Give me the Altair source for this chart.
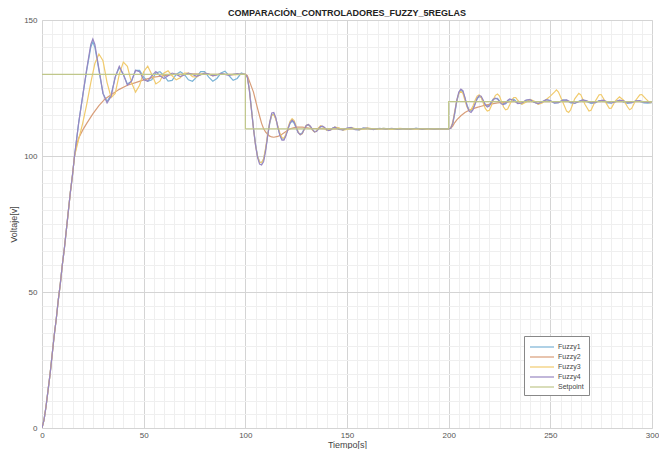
import altair as alt
import pandas as pd

series_names = ["Fuzzy1", "Fuzzy2", "Fuzzy3", "Fuzzy4", "Setpoint"]
series_colors = ["#7ab3d6", "#d89d78", "#f1cb6e", "#9887c2", "#c0c78a"]

# common rise (all controllers)
t_rise = [0, 1, 2, 3, 4, 5, 6, 7, 8, 9, 10, 11, 12, 13, 14, 15, 16]
v_rise = [0, 3, 8, 14, 20, 27, 34, 40, 47, 53, 60, 66, 73, 80, 87, 93, 100]

# Fuzzy4 (purple)
t_f4 = [18, 20, 22, 24, 25, 26, 28, 30, 32, 34, 36, 38, 40, 42, 44, 46, 48, 50, 52, 54, 56, 58, 60,
        62, 64, 66, 68, 70, 72, 74, 76, 78, 80, 82, 84, 86, 88, 90, 92, 94, 96, 98, 100,
        101, 102, 103, 104, 105, 106, 107, 108, 109, 110, 111, 112, 113, 114, 115, 116, 117, 118, 119, 120,
        121, 122, 123, 124, 125, 126, 127, 128, 129, 130, 131, 132, 133, 134, 135, 136, 137, 138, 139, 140,
        141, 142, 143, 144, 146, 148, 150, 152, 154, 156, 158, 160, 163, 166, 169, 172, 175, 178, 181, 184,
        187, 190, 193, 196, 200,
        201, 202, 203, 204, 205, 206, 207, 208, 209, 210, 211, 212, 213, 214, 215, 216, 217, 218, 219, 220,
        221, 222, 223, 224, 225, 226, 227, 228, 229, 230, 232, 234, 236, 238, 240, 242, 244, 246, 248, 250,
        252, 254, 256, 258, 260, 262, 264, 266, 268, 270, 272, 274, 276, 278, 280, 282, 284, 286, 288, 290,
        292, 294, 296, 298, 300]
v_f4 = [112, 122, 132, 141, 143, 141, 132, 123, 119.5, 122, 129, 133, 130, 126, 127.5, 131.5, 131, 128, 127.5, 129.5, 131, 129.5, 128.5,
        129.5, 130.5, 130, 129.2, 129.8, 130.5, 130, 129.3, 129.8, 130.5, 130.2, 129.5, 129.8, 130.4, 130, 129.6, 130, 130.3, 130, 130,
        129, 124, 117, 110, 104, 99.5, 97, 96.7, 98, 102, 107.5, 112.5, 115.8, 116, 114, 110.5, 107.5, 105.8, 105.8, 107.5,
        110, 112.2, 113.2, 112.5, 110.6, 108.6, 107.8, 108.3, 109.8, 111.2, 111.6, 111, 109.8, 108.9, 109, 109.9, 110.8, 111, 110.5, 109.7,
        109.3, 109.6, 110.3, 110.6, 109.8, 109.6, 110.3, 110.4, 109.7, 109.7, 110.3, 110.2, 109.7, 110.2, 109.9, 110.2, 109.8, 110.1, 109.9, 110.2,
        109.8, 110.1, 109.9, 110.1, 110,
        110.2, 112, 116, 120.5, 123.5, 124.6, 124, 121.5, 118.5, 116.5, 116, 117, 119, 121.2, 122.2, 122, 120.5, 118.8, 118, 118.4,
        119.6, 120.8, 121.3, 121, 120, 119.1, 118.9, 119.5, 120.4, 121, 120.4, 119.3, 119.5, 120.6, 120.7, 119.8, 119.3, 119.9, 120.7, 120.4,
        119.5, 119.6, 120.5, 120.6, 119.8, 119.4, 120, 120.6, 120.3, 119.6, 119.6, 120.3, 120.5, 119.9, 119.5, 119.9, 120.5, 120.3, 119.6, 119.6,
        120.3, 120.4, 119.8, 119.7, 120]

# Fuzzy1 (blue)
t_f1 = [18, 20, 22, 24, 25, 26, 28, 30, 32, 34, 36, 38, 40, 42, 44, 46, 48, 50, 52, 54, 56, 58, 60,
        62, 64, 66, 68, 70, 72, 74, 76, 78, 80, 82, 84, 86, 88, 90, 92, 94, 96, 98, 100,
        101, 102, 103, 104, 105, 106, 107, 108, 109, 110, 111, 112, 113, 114, 115, 116, 117, 118, 119, 120,
        121, 122, 123, 124, 125, 126, 127, 128, 129, 130, 131, 132, 133, 134, 135, 136, 137, 138, 139, 140,
        142, 144, 146, 148, 150, 152, 154, 156, 158, 160, 164, 168, 172, 176, 180, 184, 188, 192, 196, 200,
        201, 202, 203, 204, 205, 206, 207, 208, 209, 210, 211, 212, 213, 214, 215, 216, 217, 218, 219, 220,
        222, 224, 226, 228, 230, 232, 234, 236, 238, 240, 242, 244, 246, 248, 250, 252, 254, 256, 258, 260,
        262, 264, 266, 268, 270, 272, 274, 276, 278, 280, 282, 284, 286, 288, 290, 292, 294, 296, 298, 300]
v_f1 = [112, 122, 131.5, 140, 142, 140, 131.5, 123, 120, 122.5, 129, 132.5, 130, 126.5, 127.5, 131.5, 131.5, 129, 127.5, 128, 130.5, 131, 129.5,
        127.5, 127.8, 130, 131, 130, 128, 127.5, 129, 131, 131, 129, 127.5, 128.5, 130.5, 131.2, 129.5, 127.8, 128.5, 130.5, 130,
        129, 124.5, 117.5, 110.5, 104.5, 100, 97.8, 97.5, 98.8, 102.5, 107.5, 112, 115, 115.5, 113.8, 110.5, 107.8, 106.3, 106.2, 107.8,
        110, 112, 112.8, 112, 110.3, 108.6, 108, 108.6, 110, 111.2, 111.4, 110.7, 109.6, 108.9, 109.2, 110.2, 110.9, 110.8, 110.1, 109.5,
        109.8, 110.6, 110.2, 109.5, 110.1, 110.5, 109.8, 109.6, 110.3, 110.2, 109.8, 110.2, 109.9, 110.1, 109.8, 110.2, 109.9, 110.1, 109.9, 110,
        110.2, 111.8, 115.6, 120, 123, 124.2, 123.6, 121.3, 118.8, 117, 116.6, 117.6, 119.4, 121, 121.8, 121.5, 120.2, 118.9, 118.4, 118.8,
        121, 121.2, 119.4, 119.2, 120.7, 120.9, 119.5, 119.2, 120.4, 120.8, 119.8, 119.2, 119.9, 120.7, 120.3, 119.4, 119.6, 120.6, 120.5, 119.5,
        119.3, 120.1, 120.6, 120, 119.3, 119.5, 120.4, 120.3, 119.5, 119.4, 120.1, 120.4, 119.8, 119.3, 119.6, 120.2, 120.1, 119.5, 119.4, 119.6]

# Fuzzy3 (yellow)
t_f3 = [18, 20, 22, 24, 26, 28, 30, 32, 34, 36, 38, 40, 42, 44, 46, 48, 50, 52, 54, 56, 58, 60,
        62, 64, 66, 68, 70, 72, 74, 76, 78, 80, 82, 84, 86, 88, 90, 94, 98, 100,
        101, 102, 103, 104, 105, 106, 107, 108, 109, 110, 111, 112, 113, 114, 115, 116, 117, 118, 119, 120,
        121, 122, 123, 124, 125, 126, 127, 128, 129, 130, 131, 132, 133, 134, 135, 136, 137, 138, 140,
        142, 144, 146, 148, 150, 152, 154, 156, 158, 160, 164, 168, 172, 176, 180, 184, 188, 192, 196, 200,
        201, 202, 203, 204, 205, 206, 207, 208, 209, 210, 211, 212, 213, 214, 215, 216, 217, 218, 219, 220,
        221, 222, 223, 224, 225, 226, 227, 228, 229, 230, 231, 232, 233, 234, 236, 238, 240, 242, 244, 246,
        248, 250, 252, 253, 254, 256, 258, 259, 260, 262, 264, 265, 267, 269, 270, 272, 274, 275, 277, 279,
        280, 282, 284, 286, 288, 289, 290, 292, 294, 295, 297, 299, 300]
v_f3 = [106, 112, 119, 127, 134, 137.5, 135, 127, 121.5, 123, 130, 134.5, 133, 127, 123.5, 126, 131, 133, 130, 126.5, 127.5, 130.5,
        131.3, 129.5, 128, 128.8, 130.5, 130.5, 129.2, 129, 130, 130.5, 130, 129.5, 129.8, 130.2, 130, 129.8, 130, 130,
        129, 124, 117, 110, 104, 99.8, 97.8, 97.6, 99, 103, 108, 112.5, 115, 115.2, 113.5, 111, 108.5, 106.8, 106.5, 108,
        110.5, 112.8, 113.7, 113, 111, 108.8, 107.8, 108.2, 109.8, 111.3, 111.6, 110.8, 109.5, 108.8, 109.2, 110.3, 111.1, 110.8, 109.5,
        109.6, 110.6, 110.4, 109.5, 109.8, 110.4, 110.1, 109.6, 110, 110.3, 109.8, 110.2, 109.8, 110.2, 109.9, 110.1, 109.8, 110.1, 109.9, 110,
        110.3, 112.5, 116.5, 120.5, 123, 123.8, 123, 120.5, 118, 116.8, 117, 118.5, 120.5, 122, 122.5, 121.5, 119.5, 117.5, 116.5, 116.8,
        118.5, 120.8, 122.3, 122.8, 122, 120, 118, 117, 117.3, 118.8, 120.5, 121.5, 121.5, 120.5, 119, 119.8, 120.8, 120.2, 119, 119.5,
        120.8, 122, 123.5, 124.3, 123.5, 120, 116.5, 116, 117, 121, 123, 122.5, 119, 116.5, 116.8, 120, 122.5, 122.6, 120, 117.5,
        117.6, 120.3, 121.8, 120.5, 118, 117, 117.5, 120.5, 122.5, 122.6, 121, 119.5, 120]

# Fuzzy2 (orange)
t_f2 = [17, 18, 20, 22, 25, 28, 31, 34, 38, 42, 46, 50, 55, 60, 65, 70, 75, 80, 90, 100,
        101, 102, 103, 104, 105, 106, 107, 108, 109, 110, 111, 112, 113, 114, 116, 118, 120, 122, 125, 128,
        132, 140, 200,
        201, 202, 203, 204, 206, 208, 210, 212, 214, 216, 218, 220, 224, 228, 232, 300]
v_f2 = [104, 106.5, 109.5, 112, 115.5, 118.5, 121, 122.5, 124.5, 126, 127, 128, 129, 129.5, 130, 130, 130.2, 130, 130, 130,
        129.5, 127.5, 125.5, 123.5, 120.5, 117.5, 114.7, 112, 110, 108.8, 108, 107.3, 107, 106.9, 107.2, 108, 109, 110, 110.6, 110.6,
        110.2, 110, 110,
        110.2, 111, 112.3, 113.3, 114.8, 116, 116.8, 117.4, 117.9, 118.3, 118.7, 119, 119.5, 119.8, 120, 120]

# Setpoint
t_sp = [0, 100, 100, 200, 200, 300]
v_sp = [130, 130, 110, 110, 120, 120]

rows = []
for name, ts, vs in [("Fuzzy1", t_rise + t_f1, v_rise + v_f1),
                     ("Fuzzy2", t_rise + t_f2, v_rise + v_f2),
                     ("Fuzzy3", t_rise + t_f3, v_rise + v_f3),
                     ("Fuzzy4", t_rise + t_f4, v_rise + v_f4),
                     ("Setpoint", t_sp, v_sp)]:
    for i, (t, v) in enumerate(zip(ts, vs)):
        rows.append({"series": name, "t": t, "v": v, "i": i})
df = pd.DataFrame(rows)

grid_color = {"condition": {"test": "datum.value % 50 === 0", "value": "#d4d4d4"}, "value": "#efefef"}

x_axis = alt.Axis(values=list(range(0, 301, 5)),
                  labelExpr="datum.value % 50 === 0 ? datum.label : ''",
                  gridColor=grid_color, ticks=False, domain=False,
                  labelFontSize=8, labelColor="#555555", labelPadding=3,
                  labelOverlap=False, labelFlush=False,
                  title="Tiempo[s]", titleFontSize=9, titleFontWeight="normal",
                  titleColor="#444444", titlePadding=1)
y_axis = alt.Axis(values=list(range(0, 151, 5)),
                  labelExpr="datum.value % 50 === 0 ? datum.label : ''",
                  gridColor=grid_color, ticks=False, domain=False,
                  labelFontSize=8, labelColor="#555555", labelPadding=5,
                  labelOverlap=False, labelFlush=False,
                  title="Voltaje[v]", titleFontSize=9, titleFontWeight="normal",
                  titleColor="#444444", titlePadding=5)

chart = alt.Chart(df).mark_line(strokeWidth=1.2, clip=True).encode(
    x=alt.X("t:Q", scale=alt.Scale(domain=[0, 300], nice=False, zero=False), axis=x_axis),
    y=alt.Y("v:Q", scale=alt.Scale(domain=[0, 150], nice=False), axis=y_axis),
    color=alt.Color("series:N",
                    scale=alt.Scale(domain=series_names, range=series_colors),
                    legend=alt.Legend(title=None, orient="none", legendX=482, legendY=316,
                                      symbolType="M-2.4,0H2.4", symbolSize=100,
                                      symbolStrokeWidth=1.2, symbolOffset=7,
                                      labelFontSize=7, labelColor="#444444", labelOffset=10,
                                      strokeColor="#888888", fillColor="white",
                                      padding=5, rowPadding=1)),
    order="i:Q",
).properties(
    width=610, height=408,
    title=alt.TitleParams("COMPARACIÓN_CONTROLADORES_FUZZY_5REGLAS", fontSize=9,
                          fontWeight="bold", color="#222222", offset=4, dy=6, anchor="middle"),
    autosize=alt.AutoSizeParams(type="none"),
    padding={"left": 34, "top": 12, "right": 7, "bottom": 21},
).configure_view(stroke="#999999", strokeWidth=1).configure(font="Liberation Sans")

chart.save("out.html", embed_options={"renderer": "svg", "actions": False})
